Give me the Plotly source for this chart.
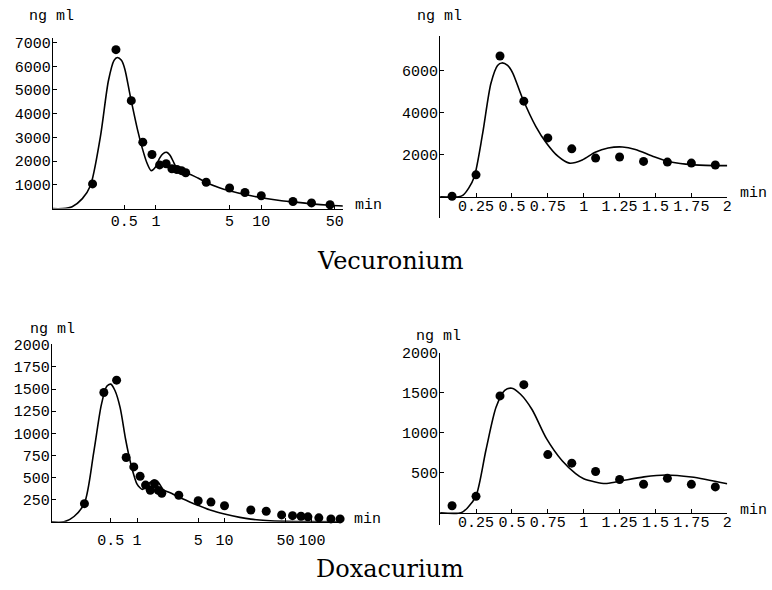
import plotly.graph_objects as go

# ---------------- data ----------------
vec_t = [0.083, 0.25, 0.417, 0.583, 0.75, 0.917, 1.083, 1.25, 1.417, 1.583, 1.75, 1.917,
         3, 5, 7, 10, 20, 30, 45, 60]
vec_c = [20, 1040, 6700, 4550, 2800, 2280, 1840, 1890, 1680, 1650, 1600, 1510,
         1110, 870, 680, 540, 300, 240, 160, 120]

vec_curve_t = [0.0, 0.13, 0.16, 0.2, 0.238, 0.296, 0.354, 0.40, 0.43, 0.47, 0.505, 0.57,
               0.667, 0.74, 0.82, 0.90, 0.99, 1.08, 1.17, 1.27, 1.36, 1.48, 1.58, 1.71,
               1.85, 2.0, 2.5, 3, 4, 5, 7, 10, 15, 20, 30, 45, 60]
vec_curve_c = [0, 0, 80, 420, 950, 3000, 5400, 6250, 6370, 6250, 5900, 4750,
               3340, 2560, 1930, 1600, 1750, 2120, 2320, 2370, 2250, 1930, 1700, 1550,
               1490, 1480, 1290, 1100, 880, 750, 590, 460, 340, 280, 200, 140, 110]

dox_t = [0.083, 0.25, 0.417, 0.583, 0.75, 0.917, 1.083, 1.25, 1.417, 1.583, 1.75, 1.917,
         3, 5, 7, 10, 20, 30, 45, 60, 75, 90, 120, 165, 210]
dox_c = [88, 205, 1460, 1600, 727, 620, 515, 415, 356, 430, 355, 323,
         300, 238, 223, 182, 134, 119, 78, 70, 63, 56, 45, 33, 33]

dox_curve_t = [0.0, 0.146, 0.19, 0.25, 0.32, 0.39, 0.45, 0.50, 0.56, 0.64, 0.74, 0.85,
               0.944, 1.0, 1.08, 1.15, 1.24, 1.42, 1.57, 1.75, 2.0, 2.5, 3, 4, 5, 7, 10,
               15, 20, 30, 50, 100, 215]
dox_curve_c = [0, 0, 60, 211, 790, 1320, 1530, 1555, 1480, 1290, 930, 650,
               490, 425, 385, 366, 390, 448, 472, 446, 362, 320, 280, 225, 185, 130, 88,
               50, 30, 15, 6, 2, 1]

vec_y_ticks_log = [1000, 2000, 3000, 4000, 5000, 6000, 7000]
vec_y_ticks_lin = [2000, 4000, 6000]
dox_y_ticks_log = [250, 500, 750, 1000, 1250, 1500, 1750, 2000]
dox_y_ticks_lin = [500, 1000, 1500, 2000]
log_x_ticks_top = [0.5, 1, 5, 10, 50]
log_x_ticks_bot = [0.5, 1, 5, 10, 50, 100]
lin_x_ticks = [0.25, 0.5, 0.75, 1, 1.25, 1.5, 1.75, 2]
lin_x_labels = ["0.25", "0.5", "0.75", "1", "1.25", "1.5", "1.75", "2"]

titles = ["Vecuronium", "Doxacurium"]
y_unit = "ng ml"
x_unit = "min"

# ---------------- layout helpers ----------------
W, H = 772, 590
MONO = "Liberation Mono"
TOP_SHIFT = -4
BOT_SHIFT = -2


def px_x(p):
    return p / W


def px_y(p):
    return 1 - p / H


def pt(p):
    return px_y(p + TOP_SHIFT)


def pb(p):
    return px_y(p + BOT_SHIFT)


fig = go.Figure()


def add_panel(xa, ya, t, c, ct, cc, log, xmax):
    if log:
        pts = [(a, b) for a, b in zip(t, c) if a >= 0.105]
        cur = [(a, b) for a, b in zip(ct, cc) if a > 0]
        cur = [(0.1, 0)] + cur if cur[0][0] > 0.1 else cur
    else:
        pts = [(a, b) for a, b in zip(t, c) if a <= xmax]
        cur = [(a, b) for a, b in zip(ct, cc) if a <= xmax]
    fig.add_trace(go.Scatter(
        x=[p[0] for p in cur], y=[p[1] for p in cur], mode="lines",
        line=dict(color="black", width=1.6, shape="spline", smoothing=0.8),
        xaxis=xa, yaxis=ya, showlegend=False, hoverinfo="skip"))
    fig.add_trace(go.Scatter(
        x=[p[0] for p in pts], y=[p[1] for p in pts], mode="markers",
        marker=dict(color="black", size=9), cliponaxis=False,
        xaxis=xa, yaxis=ya, showlegend=False))


add_panel("x", "y", vec_t, vec_c, vec_curve_t, vec_curve_c, True, 60)
add_panel("x2", "y2", vec_t, vec_c, vec_curve_t, vec_curve_c, False, 2.0)
add_panel("x3", "y3", dox_t, dox_c, dox_curve_t, dox_curve_c, True, 215)
add_panel("x4", "y4", dox_t, dox_c, dox_curve_t, dox_curve_c, False, 2.0)

axis_common = dict(showline=True, linecolor="black", linewidth=1, showgrid=False,
                   zeroline=False, ticks="inside", ticklen=4, tickwidth=1,
                   tickcolor="black",
                   tickfont=dict(family=MONO, size=15, color="black"))


def fmt(v):
    return ("%g" % v)


fig.update_layout(
    xaxis=dict(axis_common, type="log", range=[-0.981, 1.774],
               domain=[px_x(53), px_x(345)], anchor="y",
               tickvals=log_x_ticks_top, ticktext=[fmt(v) for v in log_x_ticks_top],
               ticklabelstandoff=-2),
    yaxis=dict(axis_common, range=[0, 7200],
               domain=[pt(208), pt(35.2)], anchor="x", ticklabelstandoff=-2,
               tickvals=vec_y_ticks_log, ticktext=[fmt(v) for v in vec_y_ticks_log]),
    xaxis2=dict(axis_common, range=[0, 2.0],
                domain=[px_x(443), px_x(732)], anchor="free",
                position=pt(196), ticklabelstandoff=-5,
                tickvals=lin_x_ticks, ticktext=lin_x_labels),
    yaxis2=dict(axis_common, range=[-1000, 7650],
                domain=[pt(217.25), pt(33.4)], anchor="x2", ticklabelstandoff=-2,
                tickvals=vec_y_ticks_lin, ticktext=[fmt(v) for v in vec_y_ticks_lin]),
    xaxis3=dict(axis_common, type="log", range=[-0.977, 2.33],
                domain=[px_x(52), px_x(343)], anchor="y3",
                tickvals=log_x_ticks_bot, ticktext=[fmt(v) for v in log_x_ticks_bot],
                ticklabelstandoff=4),
    yaxis3=dict(axis_common, range=[0, 2010],
                domain=[pb(523), pb(342.9)], anchor="x3", ticklabelstandoff=-2,
                tickvals=dox_y_ticks_log, ticktext=[fmt(v) for v in dox_y_ticks_log]),
    xaxis4=dict(axis_common, range=[0, 2.0],
                domain=[px_x(443), px_x(732)], anchor="free",
                position=pb(513.8), ticklabelstandoff=-5,
                tickvals=lin_x_ticks, ticktext=lin_x_labels),
    yaxis4=dict(axis_common, range=[-150, 2000],
                domain=[pb(526), pb(351.8)], anchor="x4", ticklabelstandoff=-2,
                tickvals=dox_y_ticks_lin, ticktext=[fmt(v) for v in dox_y_ticks_lin]),
)

ann = []
mono_font = dict(family=MONO, size=15, color="black")
for (x, y, f) in [(52, 14, pt), (442, 14, pt), (53, 328, pb), (441, 335, pb)]:
    ann.append(dict(x=px_x(x), y=f(y), xref="paper", yref="paper", text=y_unit,
                    showarrow=False, font=mono_font, xanchor="center", yanchor="middle"))
for (x, y, f) in [(355, 205, pt), (743, 193, pt), (354, 521, pb), (743, 512, pb)]:
    ann.append(dict(x=px_x(x), y=f(y), xref="paper", yref="paper", text=x_unit,
                    showarrow=False, font=mono_font, xanchor="left", yanchor="middle"))
for (txt, y) in zip(titles, [257, 569]):
    ann.append(dict(x=px_x(393), y=px_y(y), xref="paper", yref="paper", text=txt,
                    showarrow=False, xanchor="center", yanchor="middle",
                    font=dict(family="DejaVu Serif", size=24, color="black")))

fig.update_layout(width=W, height=H, margin=dict(l=0, r=0, t=0, b=0),
                  paper_bgcolor="white", plot_bgcolor="white",
                  annotations=ann, showlegend=False)

fig.write_html("out.html", config={"displayModeBar": False},
               post_script="document.body.style.margin='0';"
                           "document.body.style.padding='0';")
